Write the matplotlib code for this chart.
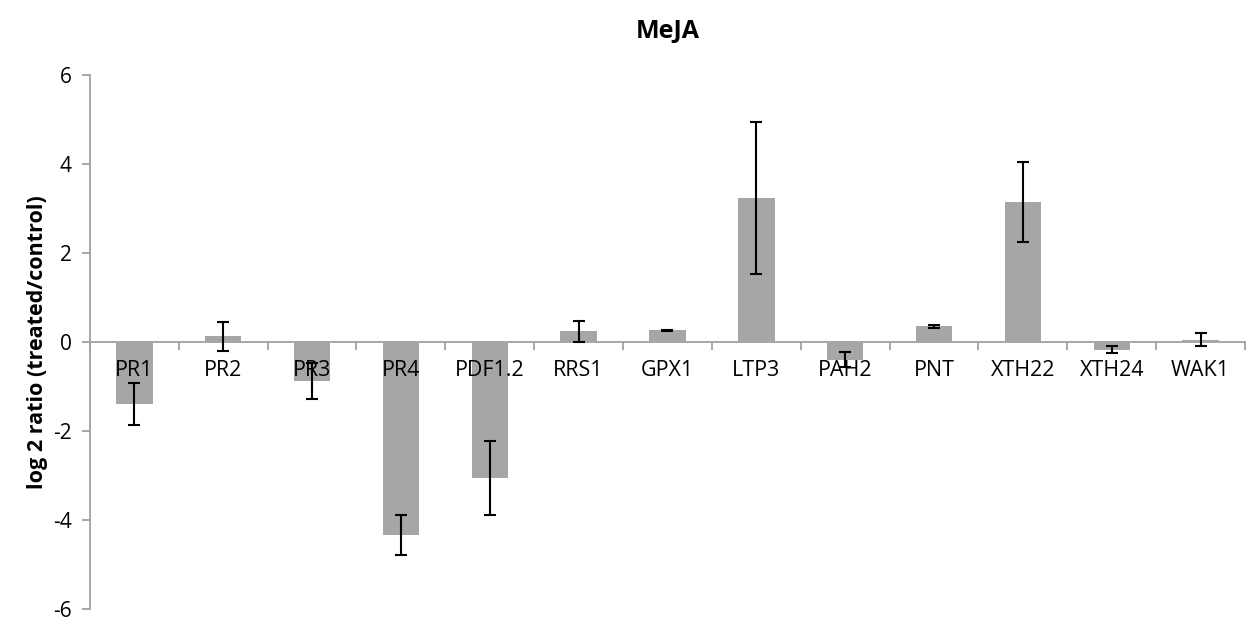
import matplotlib
matplotlib.use("Agg")
import matplotlib.pyplot as plt
import numpy as np

genes = ["PR1", "PR2", "PR3", "PR4", "PDF1.2", "RRS1", "GPX1", "LTP3",
         "PAH2", "PNT", "XTH22", "XTH24", "WAK1"]
log2_ratio = [-1.40, 0.13, -0.87, -4.33, -3.05, 0.24, 0.26, 3.24,
              -0.40, 0.35, 3.15, -0.17, 0.05]
std_err = [0.47, 0.33, 0.40, 0.45, 0.83, 0.24, 0.02, 1.71,
           0.17, 0.04, 0.90, 0.08, 0.15]
y_ticks = [-6, -4, -2, 0, 2, 4, 6]

plt.rcParams['font.family'] = ['Open Sans', 'DejaVu Sans']

fig = plt.figure(figsize=(12.49, 6.2), dpi=100)
ax = fig.add_axes([0.072, 0.0177, 0.9248, 0.8613])

x = np.arange(len(genes))
axis_gray = "#A0A0A0"

ax.bar(x, log2_ratio, width=0.41, color="#A6A6A6", zorder=3)
ax.errorbar(x, log2_ratio, yerr=std_err, fmt="none", ecolor="black",
            elinewidth=1.5, capsize=4.4, capthick=1.5, zorder=6)

ax.set_xlim(-0.5, len(genes) - 0.5)
ax.set_ylim(-6, 6)
ax.set_yticks(y_ticks)
ax.set_yticklabels([str(v) for v in y_ticks], fontsize=15)

# category axis crosses at zero, ticks between categories
ax.spines['bottom'].set_position(('data', 0))
ax.spines['bottom'].set_color(axis_gray)
ax.spines['bottom'].set_linewidth(1.3)
ax.spines['left'].set_color(axis_gray)
ax.spines['left'].set_linewidth(1.3)
ax.spines['top'].set_visible(False)
ax.spines['right'].set_visible(False)

ax.set_xticks(np.arange(len(genes) + 1) - 0.5)
ax.set_xticklabels([])
ax.set_xticks(x, minor=True)
ax.set_xticklabels(genes, minor=True, fontsize=15.5)
ax.tick_params(axis='x', which='major', direction='out', length=6,
               color=axis_gray, width=1.3)
ax.tick_params(axis='x', which='minor', length=0, pad=13)
ax.tick_params(axis='y', direction='out', length=6, color=axis_gray,
               width=1.3, pad=7)
# category names are drawn on top of the bars
ax.xaxis.set_zorder(5)

ax.set_ylabel("log 2 ratio (treated/control)", fontsize=15.5,
              fontweight='bold')
ax.yaxis.set_label_coords(-0.036, 0.5)
ax.set_title("MeJA", fontsize=18, fontweight='bold', pad=27)

fig.savefig("out.png", dpi=100)
